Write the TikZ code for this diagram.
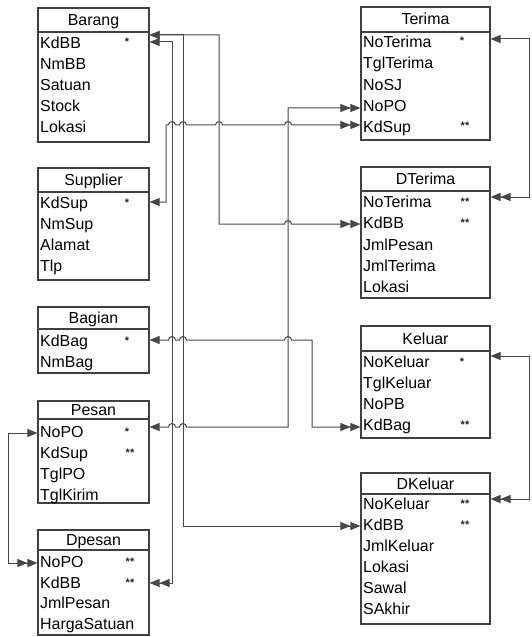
\documentclass[tikz,border=0pt]{standalone}
\usepackage{fontspec}
\setmainfont{Liberation Sans}
\usetikzlibrary{arrows.meta,fit}
\tikzset{
  tbox/.style={draw=black!75, line width=1.1bp, inner sep=0pt},
  ttl/.style={font=\fontsize{16}{18}\selectfont, text=black, inner sep=0pt, anchor=base},
  row/.style={font=\fontsize{16}{18}\selectfont, text=black, inner sep=0pt, anchor=base west},
  mk/.style={font=\fontsize{11}{12}\selectfont\bfseries, text=black!85, inner sep=0pt, anchor=base},
  conn/.style={draw=black!72, line width=1bp},
  onemany/.style={{Triangle[length=10bp,width=8bp]}-{Triangle[length=10bp,width=8bp]Triangle[length=10bp,width=8bp]}},
  hop/.style 2 args={insert path={-- ({#1-3.5},#2) arc[start angle=180,end angle=360,radius=3.5]}},
}
\newcommand\ertbl[7]{%
  \coordinate (#1-nw) at (#2,#3);
  \coordinate (#1-se) at (#4,#5);
  \node[tbox, fit=(#1-nw)(#1-se)] (#1) {};
  \draw[tbox] (#1.west |- 0,#6) -- (#1.east |- 0,#6);
  \node[ttl] (#1-title) at ({(#2+#4)/2},{(#3+#6)/2+5.5}) {#7};
}
\newcommand\errow[4]{\node[row] (#1) at (#2,{#3+5.7}) {#4};}
\newcommand\ermk[4]{\node[mk] (#1) at (#2,{#3+3}) {#4};}
\begin{document}
\begin{tikzpicture}[x=1bp,y=-1bp]
\useasboundingbox[fill=white] (0,0) rectangle (532,637);

% ---------- left tables ----------
\ertbl{barang}{38}{8}{149}{142}{32}{Barang}
\errow{barang-KdBB}{40}{43}{KdBB}
\errow{barang-NmBB}{40}{64}{NmBB}
\errow{barang-Satuan}{40}{85}{Satuan}
\errow{barang-Stock}{40}{106}{Stock}
\errow{barang-Lokasi}{40}{127}{Lokasi}
\ermk{barang-m1}{127}{43}{*}

\ertbl{supplier}{38}{168}{149}{280}{192}{Supplier}
\errow{supplier-KdSup}{40}{203}{KdSup}
\errow{supplier-NmSup}{40}{224}{NmSup}
\errow{supplier-Alamat}{40}{245}{Alamat}
\errow{supplier-Tlp}{40}{266}{Tlp}
\ermk{supplier-m1}{127}{203}{*}

\ertbl{bagian}{38}{307}{149}{373}{329}{Bagian}
\errow{bagian-KdBag}{40}{341}{KdBag}
\errow{bagian-NmBag}{40}{362}{NmBag}
\ermk{bagian-m1}{127}{341}{*}

\ertbl{pesan}{38}{401}{149}{503}{419}{Pesan}
\errow{pesan-NoPO}{40}{432}{NoPO}
\errow{pesan-KdSup}{40}{453}{KdSup}
\errow{pesan-TglPO}{40}{474}{TglPO}
\errow{pesan-TglKirim}{40}{495}{TglKirim}
\ermk{pesan-m1}{127}{432}{*}
\ermk{pesan-m2}{130}{453}{**}

\ertbl{dpesan}{38}{530}{149}{635}{550}{Dpesan}
\errow{dpesan-NoPO}{40}{562}{NoPO}
\errow{dpesan-KdBB}{40}{583}{KdBB}
\errow{dpesan-JmlPesan}{40}{603}{JmlPesan}
\errow{dpesan-HargaSatuan}{40}{624}{HargaSatuan}
\ermk{dpesan-m1}{130}{562}{**}
\ermk{dpesan-m2}{130}{583}{**}

% ---------- right tables ----------
\ertbl{terima}{361}{7}{490}{140}{32}{Terima}
\errow{terima-NoTerima}{363}{42}{NoTerima}
\errow{terima-TglTerima}{363}{63}{TglTerima}
\errow{terima-NoSJ}{363}{85}{NoSJ}
\errow{terima-NoPO}{363}{106}{NoPO}
\errow{terima-KdSup}{363}{127}{KdSup}
\ermk{terima-m1}{462}{42}{*}
\ermk{terima-m2}{465}{127}{**}

\ertbl{dterima}{361}{167}{490}{298}{191}{DTerima}
\errow{dterima-NoTerima}{363}{202}{NoTerima}
\errow{dterima-KdBB}{363}{223}{KdBB}
\errow{dterima-JmlPesan}{363}{245}{JmlPesan}
\errow{dterima-JmlTerima}{363}{266}{JmlTerima}
\errow{dterima-Lokasi}{363}{287}{Lokasi}
\ermk{dterima-m1}{465}{202}{**}
\ermk{dterima-m2}{465}{223}{**}

\ertbl{keluar}{361}{326}{490}{438}{351}{Keluar}
\errow{keluar-NoKeluar}{363}{362}{NoKeluar}
\errow{keluar-TglKeluar}{363}{383}{TglKeluar}
\errow{keluar-NoPB}{363}{404}{NoPB}
\errow{keluar-KdBag}{363}{425}{KdBag}
\ermk{keluar-m1}{462}{362}{*}
\ermk{keluar-m2}{465}{425}{**}

\ertbl{dkeluar}{361}{473}{490}{624}{494}{DKeluar}
\errow{dkeluar-NoKeluar}{363}{504}{NoKeluar}
\errow{dkeluar-KdBB}{363}{525}{KdBB}
\errow{dkeluar-JmlKeluar}{363}{546}{JmlKeluar}
\errow{dkeluar-Lokasi}{363}{567}{Lokasi}
\errow{dkeluar-Sawal}{363}{588}{Sawal}
\errow{dkeluar-SAkhir}{363}{609}{SAkhir}
\ermk{dkeluar-m1}{465}{504}{**}
\ermk{dkeluar-m2}{465}{525}{**}

% ---------- connectors ----------
% Barang.KdBB -- DTerima.KdBB
\draw[conn,onemany] (barang.east |- 0,35) -- (219,35) -- (219,224) [hop={288}{224}] -- (dterima.west |- 0,224);
% Barang.KdBB -- DKeluar.KdBB
\draw[conn,onemany] (barang.east |- 0,35) -- (183,35) -- (183,526) -- (dkeluar.west |- 0,526);
% Barang.KdBB -- Dpesan.KdBB
\draw[conn,onemany] (barang.east |- 0,42) -- (172,42) -- (172,583) -- (dpesan.east |- 0,583);
% Supplier.KdSup -- Terima.KdSup
\draw[conn,onemany] (supplier.east |- 0,202) -- (166,202) -- (166,125)
  [hop={172}{125}] [hop={183}{125}] [hop={219}{125}] [hop={288}{125}] -- (terima.west |- 0,125);
% Pesan.NoPO -- Terima.NoPO
\draw[conn,onemany] (pesan.east |- 0,427) [hop={172}{427}] [hop={183}{427}] -- (288,427) -- (288,108) -- (terima.west |- 0,108);
% Bagian.KdBag -- Keluar.KdBag
\draw[conn,onemany] (bagian.east |- 0,340) [hop={172}{340}] [hop={183}{340}] [hop={288}{340}] -- (312,340) -- (312,427) -- (keluar.west |- 0,427);
% Pesan.NoPO -- Dpesan.NoPO
\draw[conn,onemany] (pesan.west |- 0,433) -- (8,433) -- (8,563) -- (dpesan.west |- 0,563);
% Terima.NoTerima -- DTerima.NoTerima
\draw[conn,onemany] (terima.east |- 0,39) -- (529,39) -- (529,197) -- (dterima.east |- 0,197);
% Keluar.NoKeluar -- DKeluar.NoKeluar
\draw[conn,onemany] (keluar.east |- 0,356) -- (529,356) -- (529,499) -- (dkeluar.east |- 0,499);
\end{tikzpicture}
\end{document}
